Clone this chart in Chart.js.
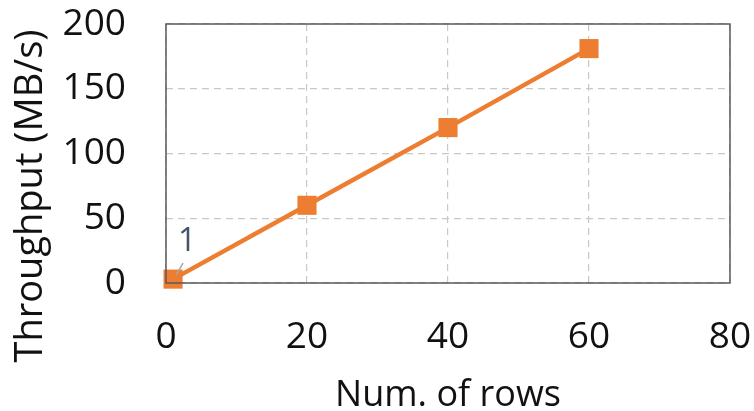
<!DOCTYPE html>
<html>
<head>
<meta charset="utf-8">
<script src="https://cdn.jsdelivr.net/npm/chart.js@4"></script>
<style>
  html, body { margin: 0; padding: 0; background: #fff; }
  #wrap { width: 754px; height: 411px; }
</style>
</head>
<body>
<div id="wrap"><canvas id="grafico" width="754" height="411"></canvas></div>
<script>
// dados
const linhas = [1, 20, 40, 60];
const throughput = [3, 60, 120, 181];
const rotulos = ["1", "", "", ""];
const ticksX = [0, 20, 40, 60, 80];
const ticksY = [0, 50, 100, 150, 200];
const tituloY = "Throughput (MB/s)";
const tituloX = "Num. of rows";

const fonte = "'Open Sans', 'Liberation Sans', sans-serif";
const laranja = "#ED7D31";

// moldura do plot (topo e direita tambem)
const moldura = {
    id: "moldura",
    afterDraw(chart) {
        const a = chart.chartArea;
        const ctx = chart.ctx;
        ctx.save();
        ctx.strokeStyle = "#595959";
        ctx.lineWidth = 1.5;
        ctx.strokeRect(a.left, a.top, a.right - a.left, a.bottom - a.top);
        ctx.restore();
    }
};

// titulo do eixo y, no excel ele fica mais pra baixo que o centro do plot
const tituloEixoY = {
    id: "tituloEixoY",
    afterDraw(chart) {
        const ctx = chart.ctx;
        ctx.save();
        ctx.translate(31, 196);
        ctx.rotate(-Math.PI / 2);
        ctx.fillStyle = "#111";
        ctx.font = "38px " + fonte;
        ctx.textAlign = "center";
        ctx.textBaseline = "middle";
        ctx.fillText(tituloY, 0, 0);
        ctx.restore();
    }
};

// rotulo "1" com linha guia
const rotuloPontos = {
    id: "rotuloPontos",
    afterDatasetsDraw(chart) {
        const ctx = chart.ctx;
        const meta = chart.getDatasetMeta(0);
        ctx.save();
        meta.data.forEach((pt, i) => {
            if (!rotulos[i]) return;
            ctx.strokeStyle = "#a6a6a6";
            ctx.lineWidth = 1.5;
            ctx.beginPath();
            ctx.moveTo(pt.x + 3, pt.y - 4);
            ctx.lineTo(pt.x + 10, pt.y - 16);
            ctx.stroke();
            ctx.fillStyle = "#44546A";
            ctx.font = "32px " + fonte;
            ctx.textAlign = "center";
            ctx.textBaseline = "middle";
            ctx.fillText(rotulos[i], pt.x + 14, pt.y - 37);
        });
        ctx.restore();
    }
};

// tira o padding extra que o chart.js poe por causa dos labels
function semPadding(s) {
    s.paddingTop = 0;
    s.paddingBottom = 0;
    s.paddingLeft = 0;
    s.paddingRight = 0;
}

const ctx = document.getElementById("grafico").getContext("2d");

new Chart(ctx, {
    type: "line",
    data: {
        datasets: [
            {
                label: "Throughput",
                data: linhas.map((x, i) => ({ x: x, y: throughput[i] })),
                borderColor: laranja,
                backgroundColor: laranja,
                borderWidth: 4.5,
                pointStyle: "rect",
                pointRadius: 13.5,
                pointHoverRadius: 13.5,
                pointBorderWidth: 0,
                tension: 0,
                clip: false
            }
        ]
    },
    options: {
        responsive: false,
        animation: false,
        layout: {
            padding: { top: 24, right: 24, left: 0, bottom: 0 }
        },
        plugins: {
            legend: { display: false },
            tooltip: { enabled: false }
        },
        scales: {
            x: {
                type: "linear",
                min: 0,
                max: 80,
                afterBuildTicks: s => { s.ticks = ticksX.map(v => ({ value: v })); },
                afterFit: s => { s.height = 128; semPadding(s); },
                grid: {
                    color: "#c8c8c8",
                    lineWidth: 1.2,
                    drawTicks: false
                },
                border: { display: false, dash: [7, 5] },
                ticks: {
                    color: "#111",
                    font: { family: fonte, size: 37 },
                    padding: 32
                },
                title: {
                    display: true,
                    text: tituloX,
                    color: "#111",
                    font: { family: fonte, size: 36, lineHeight: 0.8 },
                    padding: { top: 0, bottom: 1 }
                }
            },
            y: {
                min: 0,
                max: 200,
                afterBuildTicks: s => { s.ticks = ticksY.map(v => ({ value: v })); },
                afterFit: s => { s.width = 166; semPadding(s); },
                grid: {
                    color: "#c8c8c8",
                    lineWidth: 1.2,
                    drawTicks: false
                },
                border: { display: false, dash: [7, 5] },
                ticks: {
                    color: "#111",
                    font: { family: fonte, size: 37 },
                    padding: 40
                },
                title: { display: false }
            }
        }
    },
    plugins: [moldura, tituloEixoY, rotuloPontos]
});
</script>
</body>
</html>
